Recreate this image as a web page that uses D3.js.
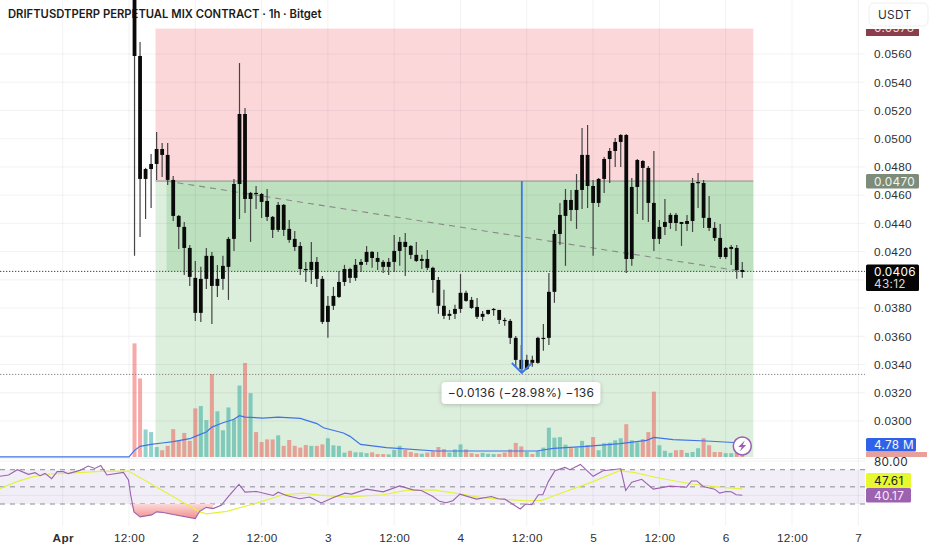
<!DOCTYPE html>
<html>
<head>
<meta charset="utf-8">
<script src="https://cdn.jsdelivr.net/npm/d3@7"></script>
<style>
  html, body { margin: 0; padding: 0; background: #fff; }
  svg { display: block; font-family: Inter, "Noto Sans", sans-serif; }
  .axis text { fill: #2f2f33; font-size: 11.8px; letter-spacing: 0.3px; }
  .axis path, .axis line { display: none; }
  .tagtext { font-size: 11.8px; letter-spacing: 0.3px; }
</style>
</head>
<body>
<svg id="chart" width="932" height="550"></svg>
<script>
const title = "DRIFTUSDTPERP PERPETUAL MIX CONTRACT · 1h · Bitget";

// first candle is Apr 1 13:00, hours counted from Apr 1 00:00
const firstCandleHour = 13;

const highs = [0.06194,0.05685,0.04793,0.04892,0.05047,0.04970,0.04970,0.04736,0.04460,0.04410,
  0.04247,0.04134,0.04092,0.04226,0.04198,0.04106,0.04170,0.04304,0.04715,0.05536,
  0.05217,0.04623,0.04665,0.04616,0.04644,0.04453,0.04552,0.04538,0.04424,0.04346,
  0.04269,0.04127,0.04269,0.04162,0.04028,0.03886,0.03950,0.04063,0.04106,0.04085,
  0.04148,0.04148,0.04240,0.04205,0.04198,0.04141,0.04155,0.04318,0.04304,0.04332,
  0.04247,0.04269,0.04177,0.04212,0.04092,0.04021,0.03929,0.03787,0.03823,0.04042,
  0.03922,0.03879,0.03872,0.03780,0.03787,0.03801,0.03787,0.03731,0.03723,0.03603,
  0.03539,0.03469,0.03462,0.03596,0.03688,0.04049,0.04354,0.04545,0.04644,0.04637,
  0.04750,0.05076,0.05097,0.04708,0.04722,0.04870,0.04934,0.05005,0.05033,0.05033,
  0.04722,0.04856,0.04849,0.04807,0.04913,0.04424,0.04573,0.04474,0.04474,0.04410,
  0.04460,0.04722,0.04757,0.04708,0.04594,0.04410,0.04396,0.04233,0.04247,0.04247,0.04127];
const bodyTops = [0.06053,0.05586,0.04785,0.04821,0.04927,0.04927,0.04885,0.04708,0.04453,0.04375,
  0.04226,0.04014,0.04007,0.04170,0.04170,0.04007,0.04099,0.04290,0.04679,0.05175,
  0.05175,0.04616,0.04616,0.04608,0.04559,0.04446,0.04531,0.04531,0.04361,0.04290,
  0.04240,0.04077,0.04127,0.04127,0.04007,0.03816,0.03886,0.03985,0.04077,0.04077,
  0.04106,0.04127,0.04198,0.04198,0.04155,0.04127,0.04127,0.04205,0.04269,0.04269,
  0.04240,0.04177,0.04148,0.04148,0.04085,0.03999,0.03816,0.03759,0.03794,0.03908,
  0.03908,0.03858,0.03808,0.03759,0.03787,0.03794,0.03787,0.03716,0.03709,0.03589,
  0.03433,0.03433,0.03433,0.03589,0.03589,0.03915,0.04325,0.04460,0.04566,0.04566,
  0.04637,0.04885,0.04885,0.04665,0.04715,0.04856,0.04913,0.04977,0.05026,0.05026,
  0.04658,0.04849,0.04842,0.04793,0.04545,0.04375,0.04410,0.04460,0.04460,0.04410,
  0.04417,0.04686,0.04693,0.04686,0.04439,0.04368,0.04297,0.04226,0.04233,0.04226,0.04070];
const bodyBottoms = [0.05586,0.04715,0.04715,0.04785,0.04821,0.04885,0.04708,0.04453,0.04375,0.04226,
  0.04021,0.03766,0.03766,0.04007,0.03957,0.03957,0.04007,0.04092,0.04290,0.04679,
  0.04573,0.04573,0.04608,0.04552,0.04446,0.04354,0.04354,0.04354,0.04283,0.04233,
  0.04077,0.04070,0.04070,0.04007,0.03702,0.03702,0.03816,0.03879,0.03985,0.04014,
  0.04014,0.04106,0.04127,0.04155,0.04127,0.04092,0.04092,0.04127,0.04205,0.04233,
  0.04177,0.04134,0.04134,0.04085,0.03999,0.03816,0.03745,0.03745,0.03759,0.03794,
  0.03851,0.03801,0.03738,0.03738,0.03759,0.03787,0.03716,0.03709,0.03589,0.03433,
  0.03369,0.03369,0.03412,0.03412,0.03582,0.03589,0.03915,0.04325,0.04453,0.04495,
  0.04495,0.04637,0.04665,0.04545,0.04545,0.04715,0.04856,0.04913,0.04977,0.04148,
  0.04148,0.04658,0.04793,0.04545,0.04290,0.04290,0.04375,0.04403,0.04403,0.04396,
  0.04396,0.04417,0.04686,0.04439,0.04368,0.04297,0.04162,0.04162,0.04219,0.04070,0.04056];
const lows = [0.04170,0.04304,0.04431,0.04509,0.04708,0.04729,0.04672,0.04417,0.04219,0.04035,
  0.03957,0.03709,0.03702,0.03936,0.03688,0.03879,0.03929,0.03858,0.04205,0.04431,
  0.04474,0.04269,0.04502,0.04439,0.04417,0.04297,0.04339,0.04311,0.04262,0.04205,
  0.04035,0.03985,0.03971,0.03950,0.03688,0.03589,0.03787,0.03872,0.03957,0.03978,
  0.03993,0.04056,0.04106,0.04085,0.04070,0.04049,0.04035,0.04056,0.04099,0.04028,
  0.04148,0.04127,0.04077,0.04070,0.03908,0.03759,0.03723,0.03716,0.03723,0.03766,
  0.03844,0.03794,0.03723,0.03709,0.03752,0.03745,0.03688,0.03674,0.03546,0.03384,
  0.03341,0.03362,0.03384,0.03405,0.03497,0.03539,0.03837,0.04247,0.04099,0.04417,
  0.04361,0.04502,0.04509,0.04170,0.04516,0.04616,0.04686,0.04800,0.04800,0.04049,
  0.04099,0.04467,0.04424,0.04410,0.04205,0.04254,0.04318,0.04361,0.04346,0.04240,
  0.04346,0.04339,0.04509,0.04368,0.04346,0.04276,0.04148,0.04148,0.04106,0.04007,0.04014];

// volume in millions, 1 = rising candle (teal), 0 = falling (red)
const volumes = [38.8,26.8,9.4,8.5,3.4,2.3,3.8,9.5,5.5,8.2,
  5.5,16.6,17.4,12.6,28.3,15.6,9.1,16.9,12.9,24.4,
  32.1,21.8,8.5,5.1,6,6,7.4,3.8,5.8,3.8,
  3.2,4.1,3.8,3.8,4.3,6.4,4,3.8,1.5,2.1,
  1.6,1.6,1.3,1.6,1,1,0.9,2.4,3.8,2.4,
  1.7,1.3,1.1,1.5,2,3.4,2.7,1.5,2.6,4.3,
  2.6,1.3,1,1.4,1.1,1,1,1.5,2.6,4.8,
  3.6,1.7,1,2,3.2,10,6.6,6.8,4.2,3,
  3.2,5.5,4.1,6.8,2.3,4.7,4.9,5.7,6.4,11.2,
  5.7,5,6.1,8.5,22.3,4,2.1,1.4,2.3,2.4,
  1.4,1.7,3,6.4,4,1.7,1.7,1.3,1.3,1.4,0.9];
const volumeRising = [0,0,1,1,1,0,0,0,0,0, 0,0,1,1,0,1,1,1,1,1,
  0,1,0,0,0,0,1,0,0,0, 0,0,1,0,0,1,1,1,1,0,
  1,1,1,0,0,0,1,1,1,0, 0,0,1,0,0,0,0,1,1,1,
  0,0,0,1,1,1,0,0,0,0, 0,1,0,1,1,1,1,1,1,0,
  1,1,0,0,1,1,1,1,1,0, 1,1,0,0,0,1,1,1,0,0,
  1,1,1,0,0,0,0,1,1,0,0];

const volumeMaHours = [-12,12,13,14,16,18,20,23,24,26,27,29,30.9,32,33,36.3,39,43,46,47.2,50.8,52,53.9,58.6,67.6,85.8,88.8,94.8,100.9,105.7,107,110.5,116.5,123];
const volumeMaValues = [0.05,0.05,2.27,3.64,4.32,4.78,5.23,6.25,7.05,8.53,10.2,11.7,12.8,14.1,13.6,13.3,13.6,13.2,11.4,10,8.2,7.05,4.3,3.2,2.05,2.05,2.96,3.64,4.55,5.69,6.7,5.9,5.46,4.78];

const rsiHours = [-11.4,-9.8,-8.2,-6.2,-5,-4.1,-3.2,-2,-1,0.1,1,3.1,4.6,5.8,6.9,8,11,11.9,12.3,12.9,14,16.1,17,18.2,20,24,24.8,26,27.2,28.7,30,31.9,33,35.1,38.1,39,40.5,42.9,44.7,46.8,49,51.1,52.3,55,58,61,63.4,64.9,67,68.2,69.4,70.6,71.9,74.9,77.6,78.8,80,82.8,83.8,84.9,86.1,86.9,87.9,89.1,90.9,91.8,93.7,96,97.8,101,101.9,103,104.8,106.9,109.9,112.9,113.8,114.8,115.9,118,118.9,120.1,121,121.9,123];
const rsiValues = [62.3,63.8,70,64.6,66.5,63,65.7,59.6,67.7,67.7,65.4,69.2,74.2,71.5,75,63.8,66.9,58,40.8,20.8,15,17.3,20.8,20,17.7,13,21.5,26.1,24.6,28.5,38.8,53,43.8,44.6,40,43.8,40,36.1,38.1,31.2,37.7,42.7,41.5,47.3,44.2,51.1,46.5,45.8,38.8,33.1,31.5,33.8,41.5,35.7,38.8,36.1,35.7,24.2,30,29.2,40.8,40.8,56.1,68.8,72.7,70,76.1,62.3,68.8,71.1,45.8,55.4,58.8,47.3,50.8,49.6,56.9,56.9,50.4,47.3,42.7,44.6,44.2,40.8,40.17];
const rsiMaHours = [-11.4,-8.3,-5.3,-2.3,0.7,6.7,11.9,24.8,26,29.7,34.5,39.9,43.5,46.5,51.4,58,62.2,67,71.9,75.5,79.7,84,86.7,89.4,96,100.8,103.3,108.1,114.1,118.9,123];
const rsiMaValues = [47.7,56.1,61.9,65,65.8,68.1,68.4,20.8,18.5,21.5,30,40.8,42.7,40.4,38.1,40.8,45.8,46.5,41.9,37.7,35.4,33.8,34.2,40.8,56.1,68.8,66.9,60,53,49.6,47.61];

const priceTicks = [0.056,0.054,0.052,0.05,0.048,0.046,0.044,0.042,0.04,0.038,0.036,0.034,0.032,0.03];
const timeTickHours = [0,12,24,36,48,60,72,84,96,108,120,132,144];
const timeTickLabels = ["Apr","12:00","2","12:00","3","12:00","4","12:00","5","12:00","6","12:00","7"];

const stopPrice = 0.0578, entryPrice = 0.047, lastPrice = 0.0406, lowLinePrice = 0.0333;
const positionStartHour = 16.8, positionEntryHour = 18.8, positionEndHour = 125;
const measureHour = 83.1;

const svg = d3.select("#chart");
const x = d3.scaleLinear().domain([0, 144]).range([62.7, 858.3]);
const y = d3.scaleLinear().domain([0.056, 0.03]).range([54, 421]);
const volY = d3.scaleLinear().domain([0, 4.78]).range([457, 443]);
const rsiY = d3.scaleLinear().domain([70, 30]).range([469.7, 504]);

const plotRight = 865, mainBottom = 457;
const bodyWidth = 3.8;
const candleHour = (i) => firstCandleHour + i;

svg.append("text").attr("x", 8).attr("y", 18)
  .attr("font-size", 11.25).attr("font-weight", 600).attr("fill", "#1c1c20")
  .text(title);

// position tool zones
const zones = svg.append("g");
zones.append("rect").attr("x", x(positionStartHour)).attr("y", y(stopPrice))
  .attr("width", x(positionEndHour) - x(positionStartHour)).attr("height", y(entryPrice) - y(stopPrice))
  .attr("fill", "#fcd7da");
zones.append("rect").attr("x", x(positionStartHour)).attr("y", y(entryPrice))
  .attr("width", x(positionEndHour) - x(positionStartHour)).attr("height", mainBottom - y(entryPrice))
  .attr("fill", "#dceedc");
zones.append("rect").attr("x", x(positionEntryHour)).attr("y", y(entryPrice))
  .attr("width", x(positionEndHour) - x(positionEntryHour)).attr("height", y(lastPrice) - y(entryPrice))
  .attr("fill", "#bde0bf");

// rsi band goes under the grid
svg.append("rect").attr("x", 0).attr("y", rsiY(70)).attr("width", plotRight).attr("height", rsiY(30) - rsiY(70))
  .attr("fill", "#f1eef8");

// grid
const grid = svg.append("g").attr("stroke", "rgba(40,40,60,0.06)").attr("stroke-width", 1);
grid.selectAll(".h").data(priceTicks).enter().append("line")
  .attr("x1", 0).attr("x2", plotRight).attr("y1", (d) => y(d)).attr("y2", (d) => y(d));
grid.selectAll(".v").data(timeTickHours).enter().append("line")
  .attr("x1", (d) => x(d)).attr("x2", (d) => x(d)).attr("y1", 0).attr("y2", 526);
grid.selectAll(".r").data([80, 40]).enter().append("line")
  .attr("x1", 0).attr("x2", plotRight).attr("y1", (d) => rsiY(d)).attr("y2", (d) => rsiY(d));
grid.append("line").attr("x1", 0).attr("x2", plotRight).attr("y1", 458.5).attr("y2", 458.5);

// horizontal price lines
svg.append("line").attr("x1", 0).attr("x2", plotRight).attr("y1", y(lastPrice)).attr("y2", y(lastPrice))
  .attr("stroke", "#444").attr("stroke-dasharray", "1.3 1.7");
svg.append("line").attr("x1", 0).attr("x2", plotRight).attr("y1", y(lowLinePrice)).attr("y2", y(lowLinePrice))
  .attr("stroke", "#888").attr("stroke-dasharray", "1.3 1.7");

// position tool entry line and target diagonal
svg.append("line").attr("x1", x(positionStartHour)).attr("x2", x(positionEndHour))
  .attr("y1", y(entryPrice)).attr("y2", y(entryPrice)).attr("stroke", "#8b8b8b").attr("stroke-width", 1);
svg.append("line").attr("x1", x(positionEntryHour)).attr("x2", x(candleHour(110)))
  .attr("y1", y(entryPrice)).attr("y2", y(lastPrice))
  .attr("stroke", "#8a8a8a").attr("stroke-width", 1.1).attr("stroke-dasharray", "6 5");

// volume bars
svg.append("g").selectAll("rect").data(volumes).enter().append("rect")
  .attr("x", (d, i) => x(candleHour(i)) - 2)
  .attr("width", 4)
  .attr("y", (d) => volY(d))
  .attr("height", (d) => volY(0) - volY(d))
  .attr("fill", (d, i) => (volumeRising[i] ? "rgba(38,166,154,0.5)" : "rgba(239,83,80,0.5)"));

// volume moving average
const pairLine = (yScale) => d3.line().x((d) => x(d[0])).y((d) => yScale(d[1]));
svg.append("path")
  .attr("d", pairLine(volY)(d3.zip(volumeMaHours, volumeMaValues)))
  .attr("fill", "none").attr("stroke", "#3f74e8").attr("stroke-width", 1.2);

// candles, all of them black in this chart
const candles = svg.append("g").selectAll("g").data(highs).enter().append("g");
candles.append("line")
  .attr("x1", (d, i) => x(candleHour(i))).attr("x2", (d, i) => x(candleHour(i)))
  .attr("y1", (d) => y(d)).attr("y2", (d, i) => y(lows[i]))
  .attr("stroke", "#444").attr("stroke-width", 1.2);
candles.append("rect")
  .attr("x", (d, i) => x(candleHour(i)) - bodyWidth / 2)
  .attr("width", bodyWidth)
  .attr("y", (d, i) => y(bodyTops[i]))
  .attr("height", (d, i) => Math.max(1.2, y(bodyBottoms[i]) - y(bodyTops[i])))
  .attr("fill", "#0a0a0a");

// price range measure
const measure = svg.append("g").attr("stroke", "#3b78e7").attr("fill", "none").attr("stroke-width", 1.8);
const mx = x(measureHour);
const mTop = y(entryPrice), mBottom = y(0.0334);
measure.append("line").attr("x1", mx).attr("x2", mx).attr("y1", mTop).attr("y2", mBottom);
measure.append("path").attr("d", `M${mx - 10},${mBottom - 10}L${mx},${mBottom}L${mx + 10},${mBottom - 10}`);

const note = svg.append("g");
note.append("rect").attr("x", 441.5).attr("y", 382).attr("width", 159).attr("height", 22).attr("rx", 4)
  .attr("fill", "#fff").style("filter", "drop-shadow(0 1px 2px rgba(0,0,0,0.2))");
note.append("text").attr("x", 521).attr("y", 397).attr("text-anchor", "middle")
  .attr("font-size", 12).attr("letter-spacing", 0.25).attr("fill", "#2a2a2e").text("−0.0136 (−28.98%) −136");

// rsi pane
const rsiBand = svg.append("g").attr("stroke", "#8c8c94").attr("stroke-dasharray", "5 5").attr("stroke-width", 1);
rsiBand.selectAll("line").data([70, 50, 30]).enter().append("line")
  .attr("x1", 0).attr("x2", plotRight).attr("y1", (d) => rsiY(d)).attr("y2", (d) => rsiY(d));

const defs = svg.append("defs");
const grad = defs.append("linearGradient").attr("id", "oversold").attr("x1", 0).attr("x2", 0).attr("y1", 0).attr("y2", 1);
grad.append("stop").attr("offset", "0%").attr("stop-color", "#fbd9d9");
grad.append("stop").attr("offset", "100%").attr("stop-color", "#f28f8c");
defs.append("clipPath").attr("id", "topClip").append("rect").attr("x", 860).attr("y", 29).attr("width", 72).attr("height", 10);

const rsiPairs = d3.zip(rsiHours, rsiValues);
const oversold = rsiPairs.filter((d) => d[0] >= 12.3 && d[0] <= 27.2);
svg.append("path")
  .attr("d", d3.area().x((d) => x(d[0])).y0(rsiY(30)).y1((d) => rsiY(Math.min(d[1], 30)))(oversold))
  .attr("fill", "url(#oversold)");
svg.append("path")
  .attr("d", pairLine(rsiY)(d3.zip(rsiMaHours, rsiMaValues)))
  .attr("fill", "none").attr("stroke", "#e4f23c").attr("stroke-width", 1.2);
svg.append("path")
  .attr("d", pairLine(rsiY)(rsiPairs))
  .attr("fill", "none").attr("stroke", "#9a62ad").attr("stroke-width", 1.1);

// lightning badge
const badge = svg.append("g").attr("transform", `translate(${x(123)},446)`);
badge.append("circle").attr("r", 9).attr("fill", "#fff").attr("stroke", "#9a5fb4").attr("stroke-width", 1.5);
badge.append("path").attr("d", "M2.5,-5.5L-4,1L-0.5,1L-2.5,5.5L4,-1L0.5,-1Z").attr("fill", "#9a5fb4");

// axes
svg.append("g").attr("class", "axis")
  .attr("transform", "translate(866,0)")
  .call(d3.axisRight(y).tickValues(priceTicks.filter((d) => d !== 0.04)).tickFormat(d3.format(".4f")).tickSize(0).tickPadding(8))
  .select(".domain").remove();
svg.append("g").attr("class", "axis")
  .attr("transform", "translate(0,533)")
  .call(d3.axisBottom(x).tickValues(timeTickHours).tickFormat((d, i) => timeTickLabels[i]).tickSize(0).tickPadding(1))
  .call((g) => g.select(".domain").remove())
  .selectAll("text").attr("font-weight", (d) => (d === 0 ? 700 : 400));

// price tags
function tag(yTop, width, height, fill, label, textFill, textY) {
  svg.append("rect").attr("x", 866).attr("y", yTop).attr("width", width).attr("height", height)
    .attr("rx", 1.5).attr("fill", fill);
  return svg.append("text").attr("class", "tagtext").attr("x", 874).attr("y", textY)
    .attr("fill", textFill).text(label);
}

svg.append("rect").attr("x", 869).attr("y", 3).attr("width", 59).attr("height", 23).attr("rx", 5)
  .attr("fill", "#fff").attr("stroke", "#efeff1");
svg.append("text").attr("class", "tagtext").attr("x", 878).attr("y", 19).attr("fill", "#2f2f33").text("USDT");

const stopTag = svg.append("g").attr("clip-path", "url(#topClip)");
stopTag.append("rect").attr("x", 866).attr("y", 20).attr("width", 53).attr("height", 16).attr("fill", "#8a3d4b");
stopTag.append("text").attr("class", "tagtext").attr("x", 874).attr("y", 32).attr("fill", "#f3dcdc").text("0.0578");

tag(174, 53, 14.5, "#7d8b79", "0.0470", "#f2f5ef", 185.5);

// last price and countdown share one tag
const lastTag = tag(264.5, 53, 26.5, "#050505", null, "#ffffff", 276);
lastTag.append("tspan").attr("x", 874).text("0.0406");
lastTag.append("tspan").attr("x", 874).attr("dy", 12.3).attr("fill", "#d8d8d8").text("43:12");

tag(438, 50, 13.5, "#2f62e8", "4.78 M", "#f2f5ff", 449);
svg.append("rect").attr("x", 866).attr("y", 452).attr("width", 61).attr("height", 5).attr("fill", "#e8a09a");
svg.append("text").attr("class", "tagtext").attr("x", 874).attr("y", 465.5).attr("fill", "#2f2f33").text("80.00");
tag(473, 45, 15, "#e8f82e", "47.61", "#222", 485);
tag(488, 45, 14.5, "#9c62b0", "40.17", "#f4eaf8", 499.5);
</script>
</body>
</html>
